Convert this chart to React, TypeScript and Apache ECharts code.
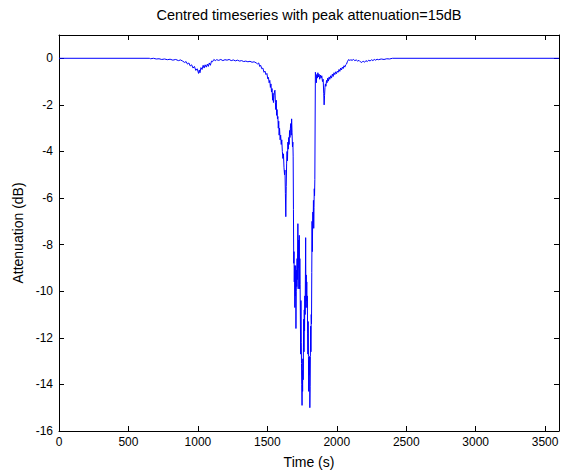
import React, { useEffect, useRef } from "react";
import * as echarts from "echarts";

// Time (s) / attenuation (dB) pairs
const quietStart: [number, number][] = [
  [0, 0], [650, 0], [660, -0.02], [680, 0], [700, -0.03], [720, -0.02], [740, -0.05],
  [760, -0.03], [780, -0.06], [800, -0.04], [820, -0.08], [840, -0.05], [860, -0.1],
  [875, -0.07], [890, -0.12],
];

const firstDip: [number, number][] = [
  [905, -0.18], [915, -0.14], [925, -0.25], [935, -0.2], [945, -0.33], [955, -0.28],
  [965, -0.42], [975, -0.35], [985, -0.52], [995, -0.45], [1005, -0.65], [1010, -0.5],
  [1015, -0.62], [1022, -0.4], [1030, -0.48], [1038, -0.3], [1045, -0.42], [1052, -0.28],
  [1060, -0.38], [1068, -0.25], [1075, -0.35], [1082, -0.2], [1090, -0.3], [1098, -0.12],
  [1105, -0.15],
];

const plateau: [number, number][] = [
  [1115, -0.05], [1125, -0.1], [1135, -0.06], [1150, -0.09], [1165, -0.05], [1180, -0.1],
  [1195, -0.06], [1210, -0.08], [1225, -0.05], [1240, -0.1], [1255, -0.07], [1270, -0.11],
  [1285, -0.08], [1300, -0.12], [1315, -0.1], [1330, -0.14], [1345, -0.12], [1360, -0.15],
  [1375, -0.13], [1390, -0.17], [1405, -0.15], [1420, -0.2],
];

const descent: [number, number][] = [
  [1430, -0.24], [1438, -0.2], [1445, -0.35], [1452, -0.3], [1460, -0.45], [1468, -0.42],
  [1476, -0.6], [1483, -0.55], [1490, -0.7], [1497, -0.65], [1503, -0.88], [1508, -0.82],
  [1513, -1.05], [1518, -0.95], [1522, -1.25], [1526, -1.1], [1530, -1.45], [1534, -1.3],
  [1538, -1.8], [1541, -1.5], [1544, -1.9], [1548, -1.6], [1552, -1.4], [1555, -1.37],
  [1558, -1.9], [1561, -2.2], [1564, -1.8], [1567, -2.45], [1570, -2.2], [1573, -2.6],
  [1576, -2.5], [1579, -3.0], [1582, -2.7], [1585, -3.3], [1588, -3.0], [1592, -3.5],
  [1596, -3.3], [1600, -3.7], [1604, -3.5], [1608, -4.0], [1612, -4.3], [1616, -4.1],
  [1620, -4.7], [1624, -5.0], [1627, -4.8], [1630, -5.8], [1633, -6.8], [1636, -5.5],
  [1639, -4.5], [1642, -4.0], [1645, -4.4], [1648, -3.6], [1651, -3.9], [1654, -3.4],
  [1657, -3.7], [1660, -3.1], [1663, -3.4], [1666, -3.0], [1669, -2.8], [1672, -3.3],
  [1675, -2.6], [1678, -3.2], [1681, -3.8], [1684, -3.6], [1686, -4.2], [1688, -6.5],
];

const deepFade: [number, number][] = [
  [1690, -8.8], [1692, -8.3], [1694, -9.6], [1696, -8.9], [1698, -10.7], [1700, -9.2],
  [1702, -10.2], [1704, -8.9], [1706, -11.6], [1708, -10.0], [1710, -9.1], [1712, -9.8],
  [1714, -8.6], [1716, -9.5], [1718, -8.4], [1720, -7.1], [1722, -9.9], [1724, -8.2],
  [1726, -7.8], [1728, -9.0], [1730, -7.6], [1732, -9.9], [1734, -8.6], [1736, -9.7],
  [1738, -11.2], [1740, -12.7], [1742, -10.4], [1744, -12.2], [1746, -13.1], [1748, -14.0],
  [1750, -14.9], [1752, -13.4], [1754, -14.3], [1756, -12.9], [1758, -13.8], [1760, -12.4],
  [1762, -11.2], [1764, -12.6], [1766, -10.8], [1768, -11.7], [1770, -10.2], [1772, -11.0],
  [1774, -9.5], [1776, -7.7], [1778, -10.7], [1780, -9.3], [1782, -10.4], [1784, -9.6],
  [1786, -10.7], [1788, -10.2], [1790, -11.8], [1792, -12.7], [1794, -11.3], [1796, -12.8],
  [1798, -14.3], [1800, -13.0], [1802, -13.6], [1804, -12.8], [1806, -15.0], [1808, -14.1],
  [1810, -12.8], [1812, -11.5], [1814, -12.6], [1816, -11.0], [1818, -11.4], [1820, -9.2],
  [1822, -7.0], [1824, -8.3], [1826, -7.2], [1828, -6.6], [1830, -7.0], [1832, -6.1],
  [1834, -7.3], [1836, -6.4], [1838, -5.6], [1840, -5.9], [1842, -5.2],
];

const recovery: [number, number][] = [
  [1846, -0.6], [1850, -0.75], [1853, -1.05], [1856, -0.7], [1860, -0.85], [1864, -0.62],
  [1868, -0.8], [1872, -0.68], [1877, -0.9], [1882, -0.72], [1887, -0.85], [1892, -0.75],
  [1897, -1.0], [1902, -0.9], [1906, -1.5], [1909, -2.0], [1912, -1.6], [1915, -1.25],
  [1918, -1.1], [1922, -1.2], [1926, -0.95], [1930, -1.05], [1935, -0.85], [1940, -0.98],
  [1945, -0.8], [1950, -0.9], [1956, -0.75], [1962, -0.85], [1968, -0.68], [1974, -0.78],
  [1980, -0.62], [1986, -0.7], [1992, -0.58], [1998, -0.66], [2004, -0.55], [2010, -0.6],
  [2016, -0.48], [2022, -0.56], [2028, -0.42], [2034, -0.5], [2040, -0.38], [2046, -0.44],
  [2052, -0.32], [2058, -0.38], [2064, -0.28], [2070, -0.25], [2076, -0.15], [2082, -0.08],
];

const quietEnd: [number, number][] = [
  [2088, -0.05], [2094, -0.1], [2100, -0.06], [2110, -0.09], [2120, -0.05], [2130, -0.1],
  [2140, -0.07], [2150, -0.12], [2160, -0.09], [2170, -0.15], [2180, -0.18], [2190, -0.12],
  [2200, -0.17], [2210, -0.1], [2220, -0.14], [2230, -0.08], [2240, -0.12], [2250, -0.06],
  [2260, -0.1], [2270, -0.05], [2280, -0.08], [2290, -0.04], [2300, -0.06], [2320, -0.03],
  [2340, -0.05], [2360, -0.02], [2380, -0.03], [2400, 0], [3600, 0],
];

const xTicks = { min: 0, max: 3600, interval: 500 };
const yTicks = { min: -16, max: 1, interval: 2 };

const titleText = "Centred timeseries with peak attenuation=15dB";
const xName = "Time (s)";
const yName = "Attenuation (dB)";

const FONT = "Liberation Sans, Arial, Helvetica, sans-serif";

export default function App() {
  const ref = useRef<HTMLDivElement>(null);

  useEffect(() => {
    if (!ref.current) return;
    const chart = echarts.init(ref.current, null, { renderer: "svg" });
    const series = [
      ...quietStart,
      ...firstDip,
      ...plateau,
      ...descent,
      ...deepFade,
      ...recovery,
      ...quietEnd,
    ];
    const axisLine = { show: true, onZero: false, lineStyle: { color: "#000", width: 1 } };
    const tick = { show: true, inside: true, length: 5, lineStyle: { color: "#000" } };
    const label = { color: "#000", fontSize: 12, fontFamily: FONT };
    chart.setOption({
      animation: false,
      backgroundColor: "#fff",
      grid: { left: 59, right: 8, top: 35, bottom: 43, containLabel: false },
      graphic: [
        {
          type: "text",
          x: 309,
          y: 7,
          style: {
            text: titleText,
            fill: "#000",
            font: `14.5px ${FONT}`,
            textAlign: "center",
            textVerticalAlign: "top",
          },
        },
      ],
      xAxis: [
        {
          type: "value",
          position: "bottom",
          ...xTicks,
          axisLine,
          axisTick: tick,
          axisLabel: {
            ...label,
            margin: 5,
            formatter: (v: number) => (v <= 3500 ? String(v) : ""),
          },
          splitLine: { show: false },
          name: xName,
          nameLocation: "middle",
          nameGap: 24,
          nameTextStyle: { color: "#000", fontSize: 14, fontFamily: FONT },
        },
        {
          type: "value",
          position: "top",
          ...xTicks,
          axisLine,
          axisTick: tick,
          axisLabel: { show: false },
          splitLine: { show: false },
        },
      ],
      yAxis: [
        {
          type: "value",
          position: "left",
          ...yTicks,
          axisLine,
          axisTick: tick,
          axisLabel: {
            ...label,
            margin: 6,
            formatter: (v: number) => (v <= 0 ? String(v) : ""),
          },
          splitLine: { show: false },
          name: yName,
          nameLocation: "middle",
          nameGap: 34,
          nameTextStyle: { color: "#000", fontSize: 14, fontFamily: FONT },
        },
        {
          type: "value",
          position: "right",
          ...yTicks,
          axisLine,
          axisTick: tick,
          axisLabel: { show: false },
          splitLine: { show: false },
        },
      ],
      series: [
        {
          type: "line",
          xAxisIndex: 0,
          yAxisIndex: 0,
          data: series,
          showSymbol: false,
          symbol: "none",
          lineStyle: { color: "#0000ff", width: 1 },
          clip: true,
        },
      ],
    });
    return () => chart.dispose();
  }, []);

  return (
    <div
      ref={ref}
      style={{ position: "fixed", left: 0, top: 0, width: 567, height: 474, background: "#fff" }}
    />
  );
}
